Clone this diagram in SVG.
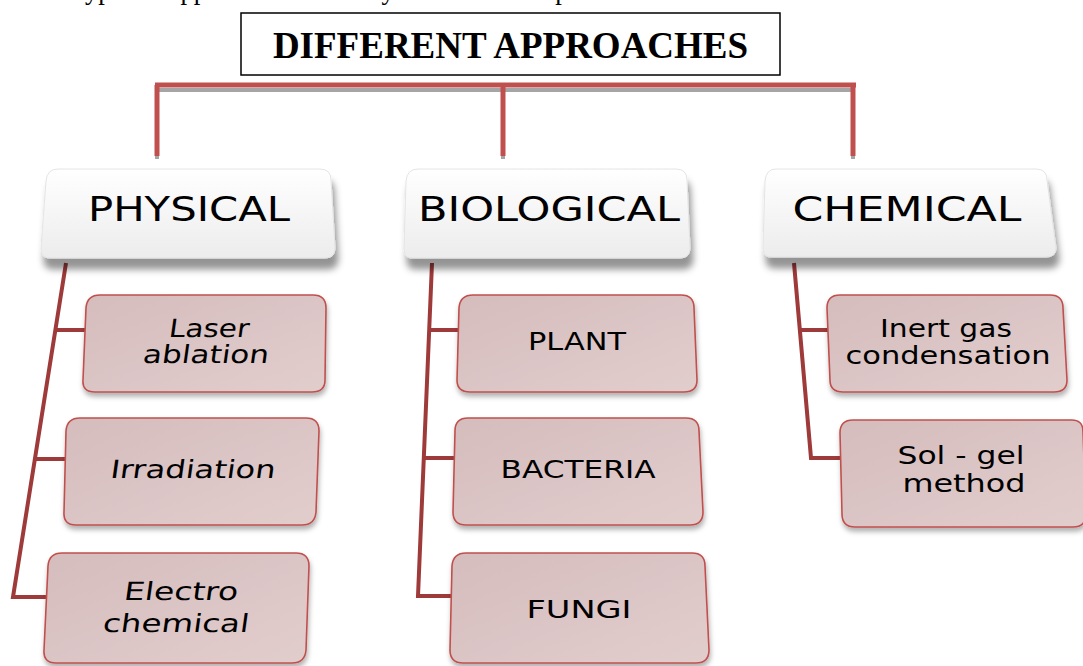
<svg xmlns="http://www.w3.org/2000/svg" width="1083" height="666" viewBox="0 0 1083 666">
<defs>
<style>
.hdr{font-family:"DejaVu Sans","Verdana",sans-serif;font-size:34px;fill:#000;text-anchor:middle}
.sub{font-family:"DejaVu Sans","Verdana",sans-serif;font-size:25px;fill:#000;text-anchor:middle}
.hbox{fill:url(#gWhite);stroke:#e4e4e4;stroke-width:1}
.cbox{fill:url(#gPink);stroke:#c0504d;stroke-width:1.6}
.trunk{fill:none;stroke:#9e3a3a;stroke-width:4;stroke-linejoin:miter}
.top{fill:none;stroke:#c0504d;stroke-width:5}
.topsh{fill:none;stroke:#a5a5a5;stroke-width:4}
</style>
<linearGradient id="gWhite" x1="0" y1="0" x2="0" y2="1">
<stop offset="0" stop-color="#ffffff"/>
<stop offset="1" stop-color="#ececec"/>
</linearGradient>
<linearGradient id="gPink" x1="0" y1="0" x2="1" y2="1">
<stop offset="0" stop-color="#d5bcbd"/>
<stop offset="1" stop-color="#e2cdcd"/>
</linearGradient>
<filter id="shH" x="-10%" y="-10%" width="120%" height="140%">
<feDropShadow dx="3" dy="11" stdDeviation="3.5" flood-color="#000" flood-opacity="0.42"/>
</filter>
<filter id="shC" x="-10%" y="-10%" width="120%" height="130%">
<feDropShadow dx="1" dy="4" stdDeviation="2.5" flood-color="#000" flood-opacity="0.3"/>
</filter>
</defs>
<rect width="1083" height="666" fill="#fff"/>

<text x="18" y="-1" font-family="Liberation Serif, serif" font-size="26.5" fill="#000">three types of approaches for the synthesis of nanoparticles.</text>

<g id="title">
<rect x="241" y="13" width="539" height="62" fill="#fff" stroke="#000" stroke-width="1.5"/>
<text x="510.5" y="58" font-family="Liberation Serif, serif" font-weight="bold" font-size="37" text-anchor="middle">DIFFERENT APPROACHES</text>
</g>

<g id="connectors">
<path class="topsh" d="M157 90 H853 M157 155 V159 M503 155 V159 M853 155 V159"/>
<path class="top" d="M155 85 H856 M157 85 V156 M503 85 V156 M853 85 V156"/>
<path class="trunk" d="M66 263 L13 597 H46 M57 330 H86 M36 459 H66"/>
<path class="trunk" d="M432 263 L418 596 H452 M429 330 H460 M424 458 H455"/>
<path class="trunk" d="M794 263 L811 458 H842 M801 330 H830"/>
</g>

<g id="physical">
<path class="hbox" filter="url(#shH)" d="M58 169 H320 Q331 169 331 180 L335 248 Q335 258 325 258 H52 Q41 259 41 249 L46 181 Q47 169 58 169 Z"/>
<text class="hdr" x="189" y="221" textLength="202" lengthAdjust="spacingAndGlyphs">PHYSICAL</text>
</g>
<g id="biological">
<path class="hbox" filter="url(#shH)" d="M418 169 H676 Q687 169 687 180 L690 248 Q690 258 680 258 H414 Q404 259 404 249 L406 181 Q407 169 418 169 Z"/>
<text class="hdr" x="549" y="221" textLength="262" lengthAdjust="spacingAndGlyphs">BIOLOGICAL</text>
</g>
<g id="chemical">
<path class="hbox" filter="url(#shH)" d="M776 169 H1036 Q1047 169 1047 180 L1056 248 Q1056 257 1046 257 H773 Q763 258 763 248 L765 181 Q766 169 776 169 Z"/>
<text class="hdr" x="907" y="221" textLength="229" lengthAdjust="spacingAndGlyphs">CHEMICAL</text>
</g>

<g id="laser">
<path class="cbox" filter="url(#shC)" d="M100 295 H313 Q326 295 326 308 L325 380 Q325 392 312 392 H95 Q82 392 83 380 L86 308 Q87 295 100 295 Z"/>
<g transform="translate(208 337) skewX(-8)"><text class="sub" x="0" y="0" textLength="80" lengthAdjust="spacingAndGlyphs">Laser</text></g>
<g transform="translate(205 363) skewX(-8)"><text class="sub" x="0" y="0" textLength="126" lengthAdjust="spacingAndGlyphs">ablation</text></g>
</g>
<g id="irradiation">
<path class="cbox" filter="url(#shC)" d="M80 418 H306 Q319 418 319 431 L316 512 Q315 525 302 525 H76 Q63 525 64 512 L66 431 Q67 418 80 418 Z"/>
<g transform="translate(192 478) skewX(-8)"><text class="sub" x="0" y="0" textLength="165" lengthAdjust="spacingAndGlyphs">Irradiation</text></g>
</g>
<g id="electro">
<path class="cbox" filter="url(#shC)" d="M62 553 H296 Q309 553 309 566 L306 650 Q305 663 292 663 H56 Q43 663 44 650 L48 566 Q49 553 62 553 Z"/>
<g transform="translate(180 600) skewX(-8)"><text class="sub" x="0" y="0" textLength="114" lengthAdjust="spacingAndGlyphs">Electro</text></g>
<g transform="translate(175 632) skewX(-8)"><text class="sub" x="0" y="0" textLength="146" lengthAdjust="spacingAndGlyphs">chemical</text></g>
</g>

<g id="plant">
<path class="cbox" filter="url(#shC)" d="M473 295 H681 Q694 295 694 308 L697 380 Q697 392 684 392 H470 Q457 392 457 380 L459 308 Q460 295 473 295 Z"/>
<text class="sub" x="577" y="350" textLength="98" lengthAdjust="spacingAndGlyphs">PLANT</text>
</g>
<g id="bacteria">
<path class="cbox" filter="url(#shC)" d="M468 418 H686 Q699 418 699 431 L703 512 Q703 525 690 525 H466 Q453 525 453 512 L455 431 Q455 418 468 418 Z"/>
<text class="sub" x="578" y="478" textLength="155" lengthAdjust="spacingAndGlyphs">BACTERIA</text>
</g>
<g id="fungi">
<path class="cbox" filter="url(#shC)" d="M466 553 H692 Q705 553 705 566 L709 650 Q709 663 696 663 H463 Q450 663 450 650 L452 566 Q453 553 466 553 Z"/>
<text class="sub" x="579" y="618" textLength="105" lengthAdjust="spacingAndGlyphs">FUNGI</text>
</g>

<g id="inert">
<path class="cbox" filter="url(#shC)" d="M840 295 H1050 Q1063 295 1063 308 L1067 380 Q1067 392 1054 392 H843 Q830 392 830 380 L827 308 Q827 295 840 295 Z"/>
<text class="sub" x="946" y="337" textLength="132" lengthAdjust="spacingAndGlyphs">Inert gas</text>
<text class="sub" x="948" y="364" textLength="205" lengthAdjust="spacingAndGlyphs">condensation</text>
</g>
<g id="solgel">
<path class="cbox" filter="url(#shC)" d="M853 420 H1070 Q1083 419 1083 432 L1086 514 Q1086 527 1073 527 H855 Q842 527 842 514 L840 433 Q840 420 853 420 Z"/>
<text class="sub" x="961" y="464" textLength="127" lengthAdjust="spacingAndGlyphs">Sol - gel</text>
<text class="sub" x="964" y="492" textLength="123" lengthAdjust="spacingAndGlyphs">method</text>
</g>
</svg>
